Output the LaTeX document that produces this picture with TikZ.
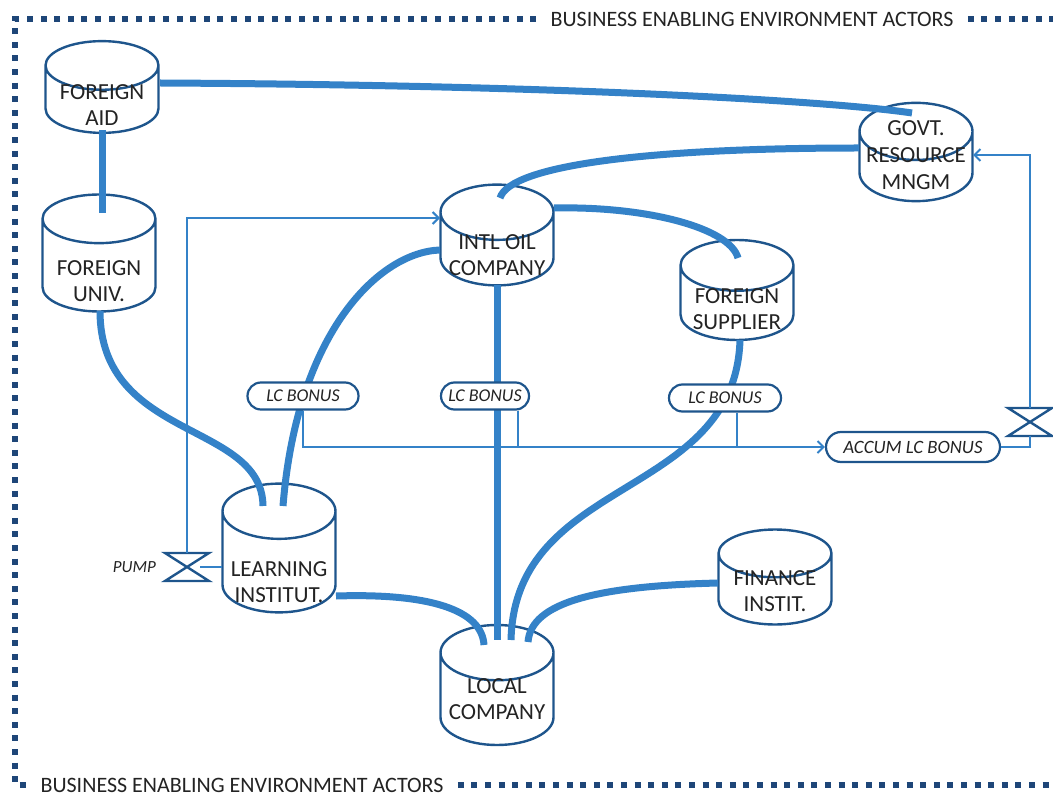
\documentclass[tikz,border=0pt]{standalone}
\usepackage{fontspec}
\setmainfont{Carlito}
\usetikzlibrary{shapes.geometric,shapes.misc,arrows.meta,calc}

\definecolor{linkblue}{RGB}{52,130,200}
\definecolor{edgeblue}{RGB}{30,85,140}
\definecolor{framenavy}{RGB}{30,70,120}
\definecolor{inktext}{RGB}{35,35,35}

% label of an actor, with its box height and depth given
\newcommand{\actorlabel}[3]{\raisebox{0pt}[#1][#2]{\begin{tabular}{@{}c@{}}#3\end{tabular}}}

\begin{document}
\begin{tikzpicture}[x=0.5pt,y=-0.5pt,
  actor/.style={cylinder, shape border rotate=90, aspect=0.55, draw=edgeblue, line width=1.2pt, fill=white,
    minimum width=56.5pt, text=inktext, font=\fontsize{11.5}{13}\selectfont, inner sep=1pt, anchor=shape center},
  link/.style={draw=linkblue, line width=3.5pt},
  flow/.style={draw=linkblue, line width=1pt},
  flowin/.style={flow, -{Straight Barb[length=3pt,width=6pt]}},
  bonus/.style={rounded rectangle, draw=edgeblue, line width=1.1pt, fill=white, minimum height=13.5pt,
    inner xsep=2pt, font=\fontsize{9}{10}\selectfont\itshape, text=inktext},
  valve/.style={draw=edgeblue, line width=1.2pt, fill=white},
  frame/.style={draw=framenavy, line width=3pt, dash pattern=on 3pt off 3.8pt},
  framelabel/.style={font=\fontsize{11}{12}\selectfont, text=inktext, inner xsep=7pt}]

\useasboundingbox (0,0) rectangle (1053,796);

% actors
\node[actor, minimum height=42.5pt] (aid) at (102,87) {\actorlabel{10pt}{0pt}{FOREIGN\\AID}};
\node[actor, minimum height=58.5pt] (univ) at (99,253) {\actorlabel{20pt}{0pt}{FOREIGN\\UNIV.}};
\node[actor, minimum height=49pt, font=\fontsize{11.5}{13.5}\selectfont] (govt) at (916,152)
  {\actorlabel{0pt}{7.5pt}{GOVT.\\RESOURCE\\MNGM}};
\node[actor, minimum height=50pt] (intl) at (497,235) {\actorlabel{10pt}{0pt}{INTL OIL\\COMPANY}};
\node[actor, minimum height=50pt] (supplier) at (737,290) {\actorlabel{11pt}{0pt}{FOREIGN\\SUPPLIER}};
\node[actor, minimum height=57.5pt] (learn) at (279,548) {\actorlabel{24pt}{0pt}{LEARNING\\INSTITUT.}};
\node[actor, minimum height=60pt] (local) at (497,685) {\actorlabel{4pt}{0pt}{LOCAL\\COMPANY}};
\node[actor, minimum height=47.5pt] (finance) at (775,577) {\actorlabel{7pt}{0pt}{FINANCE\\INSTIT.}};

% links
\draw[link] ($(aid.shape center)+(58,-4)$) .. controls +(400,2) and +(-80,-12) .. ($(govt.shape center)+(-4,-39)$);
\draw[link] ($(aid.shape center)+(0,43)$) -- ($(univ.shape center)+(3,-40)$);
\draw[link] ($(univ.shape center)+(1,58)$) .. controls +(0,130) and +(-1,-85) .. ($(learn.shape center)+(-16,-42)$);
\draw[link] ($(learn.shape center)+(4,-42)$) .. controls +(14,-175) and +(-60,2) .. ($(intl.shape center)+(-57,15)$);
\draw[link] ($(learn.shape center)+(57,48)$) .. controls +(94,-3) and +(-2,-35) .. ($(local.shape center)+(-13,-40)$);
\draw[link] ($(intl.shape center)+(0,50)$) -- ($(local.shape center)+(0,-45)$);
\draw[link] ($(intl.shape center)+(3,-37)$) .. controls +(10,-33) and +(-210,0) .. ($(govt.shape center)+(-57,-4)$);
\draw[link] ($(intl.shape center)+(57,-27)$) .. controls +(93,-2) and +(-8,-30) .. ($(supplier.shape center)+(1,-32)$);
\draw[link] ($(supplier.shape center)+(3,50)$) .. controls +(-5,160) and +(4,-165) .. ($(local.shape center)+(14,-45)$);
\draw[link] ($(finance.shape center)+(-57,6)$) .. controls +(-120,3) and +(3,-40) .. ($(local.shape center)+(31,-43)$);

% bonus levels
\node[bonus, minimum width=59.5pt] (lc1) at (303,396) {LC BONUS};
\node[bonus, minimum width=48pt] (lc2) at (485,396) {LC BONUS};
\node[bonus, minimum width=60pt] (lc3) at (725,398) {LC BONUS};
\node[bonus, minimum width=91pt, minimum height=15pt, font=\fontsize{9.4}{10}\selectfont\itshape] (accum) at (913,447) {ACCUM LC BONUS};

% valves
\coordinate (pumpv) at (187,567);
\coordinate (govtv) at (1030,422);
\draw[valve] ($(pumpv)+(-22,-14)$) -- ++(44,0) -- ++(-44,28) -- ++(44,0) -- cycle;
\draw[valve] ($(govtv)+(-22,-14)$) -- ++(44,0) -- ++(-44,28) -- ++(44,0) -- cycle;
\node[font=\fontsize{8.5}{9}\selectfont\itshape, text=inktext, anchor=east] (pumptxt) at ($(pumpv)+(-24,0)$) {PUMP};

% flows
\draw[flowin] ($(pumpv)+(0,-14)$) |- ($(intl.shape center)+(-57,-17)$);
\draw[flow] ($(pumpv)+(13,0)$) -- ($(learn.shape center)+(-57,19)$);
\draw[flowin] ($(govtv)+(0,-14)$) |- ($(govt.shape center)+(57,3)$);
\draw[flow] (accum.east) -| ($(govtv)+(0,14)$);
\draw[flowin] (lc1.south) |- (accum.west);
\coordinate (lc2foot) at ($(lc2.south)+(33,0)$);
\draw[flow] (lc2foot) -- (lc2foot |- accum.west);
\coordinate (lc3foot) at ($(lc3.south)+(12,0)$);
\draw[flow] (lc3foot) -- (lc3foot |- accum.west);

% frame
\node[framelabel] (toptitle) at (752,19) {BUSINESS ENABLING ENVIRONMENT ACTORS};
\node[framelabel] (bottitle) at (242,785) {BUSINESS ENABLING ENVIRONMENT ACTORS};
\draw[frame] (toptitle.west) -- (15,19) -- (15,785) -- (bottitle.west);
\draw[frame] (toptitle.east) -- (1060,19);
\draw[frame] (bottitle.east) -- (1060,785);
\end{tikzpicture}
\end{document}
